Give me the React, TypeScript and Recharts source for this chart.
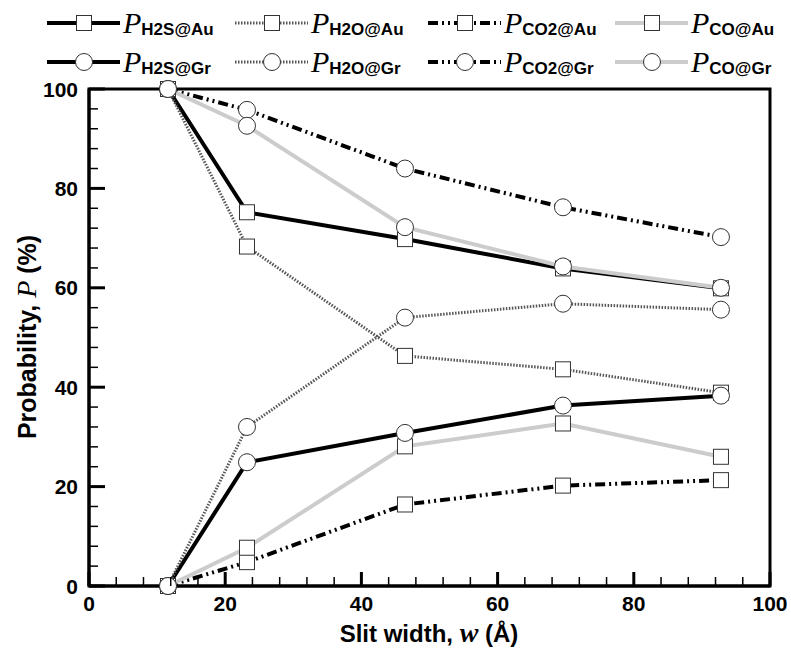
import React from 'react';
import { LineChart, Line, XAxis, YAxis, ReferenceArea, Legend } from 'recharts';

// slit widths (Å)
const widths = [11.6, 23.2, 46.4, 69.6, 92.8];

// probabilities (%)
const h2sAu = [100, 75.2, 69.8, 63.9, 59.9];
const h2oAu = [100, 68.3, 46.3, 43.6, 38.9];
const co2Au = [0, 4.8, 16.4, 20.2, 21.3];
const coAu = [0, 7.7, 28.1, 32.7, 26.0];
const h2sGr = [0, 24.9, 30.8, 36.3, 38.3];
const h2oGr = [0, 32.0, 54.0, 56.8, 55.6];
const co2Gr = [100, 95.8, 84.0, 76.2, 70.2];
const coGr = [100, 92.6, 72.2, 64.3, 60.0];

const axisTicks = Array.from({ length: 26 }, (_, i) => i * 4);

const SANS = '"Liberation Sans", Arial, sans-serif';
const SERIF = '"Liberation Serif", "Times New Roman", serif';

const styles = {
  H2S: { stroke: '#000', width: 4, dash: undefined },
  H2O: { stroke: '#555', width: 3, dash: '1.5 1.5' },
  CO2: { stroke: '#000', width: 4, dash: '10 4 2 4 2 4' },
  CO: { stroke: '#cccccc', width: 4, dash: undefined },
};

const series = [
  { key: 'h2sAu', gas: 'H2S', site: 'Au', values: h2sAu },
  { key: 'h2oAu', gas: 'H2O', site: 'Au', values: h2oAu },
  { key: 'co2Au', gas: 'CO2', site: 'Au', values: co2Au },
  { key: 'coAu', gas: 'CO', site: 'Au', values: coAu },
  { key: 'h2sGr', gas: 'H2S', site: 'Gr', values: h2sGr },
  { key: 'h2oGr', gas: 'H2O', site: 'Gr', values: h2oGr },
  { key: 'co2Gr', gas: 'CO2', site: 'Gr', values: co2Gr },
  { key: 'coGr', gas: 'CO', site: 'Gr', values: coGr },
];

const data = widths.map((w, i) => {
  const row: Record<string, number> = { w };
  series.forEach((s) => (row[s.key] = s.values[i]));
  return row;
});

function Marker({ cx, cy, site }: { cx: number; cy: number; site: string }) {
  if (site === 'Au') {
    return <rect x={cx - 7.5} y={cy - 7.5} width={15} height={15} fill="#fff" stroke="#333" strokeWidth={1} />;
  }
  return <circle cx={cx} cy={cy} r={8.5} fill="#fff" stroke="#333" strokeWidth={1} />;
}

function XTick({ x, y, payload }: any) {
  const major = payload.value % 20 === 0;
  return (
    <g>
      <line x1={x} y1={y} x2={x} y2={y - (major ? 14 : 9)} stroke="#000" strokeWidth={major ? 3 : 1.5} />
      {major && (
        <text x={x} y={y + 25} textAnchor="middle" fontFamily={SANS} fontWeight="bold" fontSize={21} fill="#000">
          {payload.value}
        </text>
      )}
    </g>
  );
}

function YTick({ x, y, payload }: any) {
  const major = payload.value % 20 === 0;
  return (
    <g>
      <line x1={x} y1={y} x2={x + (major ? 16 : 9)} y2={y} stroke="#000" strokeWidth={major ? 3 : 1.5} />
      {major && (
        <text x={x - 11} y={y} dy="0.36em" textAnchor="end" fontFamily={SANS} fontWeight="bold" fontSize={21} fill="#000">
          {payload.value}
        </text>
      )}
    </g>
  );
}

function YTitle() {
  return (
    <text transform="translate(36,337) rotate(-90)" textAnchor="middle" fontFamily={SANS} fontWeight="bold" fontSize={25} fill="#000">
      Probability,{' '}
      <tspan fontFamily={SERIF} fontStyle="italic" fontWeight="normal" fontSize={28}>P</tspan>
      {' (%)'}
    </text>
  );
}

function XTitle() {
  return (
    <text x={429} y={642} textAnchor="middle" fontFamily={SANS} fontWeight="bold" fontSize={24} fill="#000">
      Slit width,{'  '}
      <tspan fontFamily={SERIF} fontStyle="italic" fontWeight="bold" fontSize={28}>w</tspan>
      {' (Å)'}
    </text>
  );
}

const legendCols = [47, 235, 428, 615];
const legendRows = [23, 62];

function LegendBox() {
  return (
    <svg width={791} height={85}>
      {series.map((s, i) => {
        const st = styles[s.gas as keyof typeof styles];
        const x0 = legendCols[i % 4];
        const y = legendRows[Math.floor(i / 4)];
        return (
          <g key={s.key}>
            <line x1={x0} y1={y} x2={x0 + 73} y2={y} stroke={st.stroke} strokeWidth={st.width} strokeDasharray={st.dash} />
            <Marker cx={x0 + 37} cy={y} site={s.site} />
            <text x={x0 + 76} y={y + 10} fill="#000">
              <tspan fontFamily={SERIF} fontStyle="italic" fontSize={30}>P</tspan>
              <tspan fontFamily={SANS} fontWeight="bold" fontSize={17} dy={2}>
                {s.gas + '@' + s.site}
              </tspan>
            </text>
          </g>
        );
      })}
    </svg>
  );
}

export default function App() {
  return (
    <div style={{ position: 'absolute', left: 0, top: 0, background: '#fff' }}>
      <LineChart width={791} height={653} data={data} margin={{ top: 89, right: 21, bottom: 0, left: 0 }}>
        <ReferenceArea x1={0} x2={100} y1={0} y2={100} fill="none" stroke="#000" strokeWidth={3} ifOverflow="visible" />
        <XAxis
          dataKey="w"
          type="number"
          domain={[0, 100]}
          ticks={axisTicks}
          interval={0}
          height={67}
          tickSize={0}
          tickMargin={0}
          tickLine={false}
          axisLine={{ stroke: '#000', strokeWidth: 3 }}
          tick={<XTick />}
          label={<XTitle />}
        />
        <YAxis
          type="number"
          domain={[0, 100]}
          ticks={axisTicks}
          interval={0}
          width={89}
          tickSize={0}
          tickMargin={0}
          tickLine={false}
          axisLine={{ stroke: '#000', strokeWidth: 3 }}
          tick={<YTick />}
          label={<YTitle />}
        />
        <Legend
          layout="horizontal"
          verticalAlign="middle"
          align="center"
          wrapperStyle={{ top: 0, left: 0, width: 791, height: 85 }}
          content={() => <LegendBox />}
        />
        {series.map((s) => {
          const st = styles[s.gas as keyof typeof styles];
          return (
            <Line
              key={s.key}
              dataKey={s.key}
              type="linear"
              stroke={st.stroke}
              strokeWidth={st.width}
              strokeDasharray={st.dash}
              isAnimationActive={false}
              dot={(p: any) => <Marker key={`${s.key}-${p.index}`} cx={p.cx} cy={p.cy} site={s.site} />}
              activeDot={false}
            />
          );
        })}
      </LineChart>
    </div>
  );
}
